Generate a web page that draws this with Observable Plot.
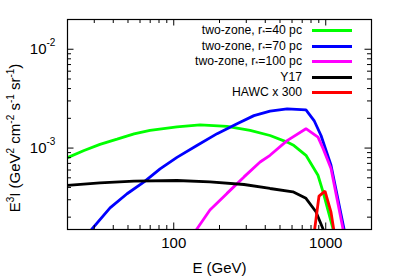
<!DOCTYPE html>
<html><head><meta charset="utf-8">
<script src="https://cdn.jsdelivr.net/npm/d3@7"></script>
<script src="https://cdn.jsdelivr.net/npm/@observablehq/plot@0.6"></script>
<style>
body{margin:0;background:#fff;font-family:"Liberation Sans",Arial,sans-serif;}
#wrap{position:relative;width:399px;height:279px;overflow:hidden;}
#legend{position:absolute;left:0;top:0;}
.row{position:absolute;height:14px;line-height:14px;font-size:12.2px;color:#000;white-space:nowrap;}
.row .t{position:absolute;right:0;top:0;}
.row .sw{position:absolute;top:6px;height:3px;width:40px;}
.row sub{font-size:7.5px;vertical-align:0;position:relative;top:1px;line-height:0;}
#ylabel{position:absolute;left:15px;top:138px;transform:translate(-50%,-50%) rotate(-90deg);font-size:15px;white-space:nowrap;line-height:16px;}
#ylabel sup{font-size:10px;line-height:0;vertical-align:0;position:relative;top:-6px;}
</style></head><body><div id="wrap"></div>
<script>
// Series (energy in GeV, E^3 I in GeV^2 cm^-2 s^-1 sr^-1)
const energy40 = [20, 25.7, 32.7, 42.4, 54.8, 69.8, 105, 149, 224, 318, 430, 557, 618, 741, 889, 960, 1117, 1169];
const flux40 = [8.0e-4, 9.45e-4, 1.09e-3, 1.23e-3, 1.39e-3, 1.51e-3, 1.64e-3, 1.72e-3, 1.66e-3, 1.51e-3, 1.34e-3, 1.15e-3, 1.06e-3, 8.45e-4, 5.31e-4, 3.61e-4, 1.52e-4, 1.18e-4];
const energy70 = [26.5, 29.0, 38.1, 49.3, 63.8, 81.3, 105, 142, 193, 261, 337, 430, 557, 741, 838, 931, 1083, 1319, 1360];
const flux70 = [1.25e-4, 1.52e-4, 2.48e-4, 3.45e-4, 4.55e-4, 6.15e-4, 8.06e-4, 1.06e-3, 1.40e-3, 1.76e-3, 2.13e-3, 2.36e-3, 2.49e-3, 2.43e-3, 1.90e-3, 1.34e-3, 6.70e-4, 1.52e-4, 1.2e-4];
const energy100 = [130, 142, 173, 224, 290, 370, 430, 557, 741, 889, 960, 1083, 1299, 1340];
const flux100 = [1.24e-4, 1.52e-4, 2.36e-4, 3.48e-4, 5.11e-4, 7.23e-4, 8.45e-4, 1.19e-3, 1.57e-3, 1.29e-3, 9.93e-4, 6.21e-4, 1.52e-4, 1.2e-4];
const energyY17 = [20, 32.7, 54.8, 105, 173, 290, 430, 608, 741, 862, 960, 989];
const fluxY17 = [4.19e-4, 4.45e-4, 4.62e-4, 4.70e-4, 4.55e-4, 4.28e-4, 3.90e-4, 3.61e-4, 3.10e-4, 2.27e-4, 1.52e-4, 1.23e-4];
const energyHAWC = [828, 903, 989, 1083, 1151];
const fluxHAWC = [1.18e-4, 3.27e-4, 3.67e-4, 2.25e-4, 1.24e-4];

const seriesNames = ["two-zone, r*=40 pc", "two-zone, r*=70 pc", "two-zone, r*=100 pc", "Y17", "HAWC x 300"];
const seriesColors = ["#00ff00", "#0000ff", "#ff00ff", "#000000", "#ff0000"];
const seriesEnergy = [energy40, energy70, energy100, energyY17, energyHAWC];
const seriesFlux = [flux40, flux70, flux100, fluxY17, fluxHAWC];

// Ticks
const xMajor = [100, 1000];
const xMinor = [30, 40, 50, 60, 70, 80, 90, 200, 300, 400, 500, 600, 700, 800, 900];
const yMajor = [1e-3, 1e-2];
const yMinor = [2e-4, 3e-4, 4e-4, 5e-4, 6e-4, 7e-4, 8e-4, 9e-4, 2e-3, 3e-3, 4e-3, 5e-3, 6e-3, 7e-3, 8e-3, 9e-3];
const xTickLabels = ["100", "1000"];
const yTickExp = ["-3", "-2"];

const W = 399, H = 279, mL = 67, mR = 28, mT = 19, mB = 50;
const FW = W - mL - mR, FH = H - mT - mB;
const MAJ = 6.5, MIN = 4;

const lineMarks = seriesNames.map((name, i) => {
  const rows = seriesEnergy[i].map((e, j) => ({e, v: seriesFlux[i][j]}));
  return Plot.line(rows, {x: "e", y: "v", stroke: seriesColors[i], strokeWidth: 2.8, clip: true, strokeLinejoin: "miter", strokeLinecap: "butt"});
});

const chart = Plot.plot({
  width: W, height: H,
  marginLeft: mL, marginRight: mR, marginTop: mT, marginBottom: mB,
  style: {fontFamily: "'Liberation Sans', Arial, sans-serif", fontSize: "15px", background: "#fff", color: "#000"},
  x: {type: "log", domain: [20, 2000], axis: null},
  y: {type: "log", domain: [1.5e-4, 2e-2], axis: null},
  marks: [
    ...lineMarks,
    Plot.tickX(xMajor, {x: d => d, insetTop: FH - MAJ, stroke: "#000"}),
    Plot.tickX(xMajor, {x: d => d, insetBottom: FH - MAJ, stroke: "#000"}),
    Plot.tickX(xMinor, {x: d => d, insetTop: FH - MIN, stroke: "#000"}),
    Plot.tickX(xMinor, {x: d => d, insetBottom: FH - MIN, stroke: "#000"}),
    Plot.tickY(yMajor, {y: d => d, insetRight: FW - MAJ, stroke: "#000"}),
    Plot.tickY(yMajor, {y: d => d, insetLeft: FW - MAJ, stroke: "#000"}),
    Plot.tickY(yMinor, {y: d => d, insetRight: FW - MIN, stroke: "#000"}),
    Plot.tickY(yMinor, {y: d => d, insetLeft: FW - MIN, stroke: "#000"}),
    Plot.frame({stroke: "#000", strokeWidth: 1.2}),
    Plot.text(xMajor, {x: d => d, text: (d, i) => xTickLabels[i], frameAnchor: "bottom", dy: 14, lineAnchor: "middle", fontSize: 15, fill: "#000"}),
    Plot.text(yMajor, {y: d => d, text: () => "10", frameAnchor: "left", dx: -21, textAnchor: "end", lineAnchor: "middle", fontSize: 15, fill: "#000"}),
    Plot.text(yMajor, {y: d => d, text: (d, i) => yTickExp[i], frameAnchor: "left", dx: -21, dy: -6, textAnchor: "start", lineAnchor: "middle", fontSize: 10, fill: "#000"}),
    Plot.text(["E (GeV)"], {frameAnchor: "bottom", dy: 39, lineAnchor: "middle", fontSize: 15, fill: "#000"})
  ]
});

const wrap = document.getElementById("wrap");
wrap.appendChild(chart);

// Legend (inside the plot, top right)
const legend = document.createElement("div");
legend.id = "legend";
const rowTop = 23, rowStep = 15.5, textRight = 302, swLeft = 312;
seriesNames.map((name, i) => {
  const row = document.createElement("div");
  row.className = "row";
  row.style.left = "0px";
  row.style.width = textRight + "px";
  row.style.top = (rowTop + i * rowStep) + "px";
  const t = document.createElement("span");
  t.className = "t";
  t.innerHTML = name.replace("r*", "r<sub>*</sub>");
  row.appendChild(t);
  const sw = document.createElement("span");
  sw.className = "sw";
  sw.style.left = (swLeft) + "px";
  sw.style.background = seriesColors[i];
  row.appendChild(sw);
  legend.appendChild(row);
});
wrap.appendChild(legend);

const yl = document.createElement("div");
yl.id = "ylabel";
yl.innerHTML = "E<sup>3</sup>I (GeV<sup>2</sup> cm<sup>-2</sup> s<sup>-1</sup> sr<sup>-1</sup>)";
wrap.appendChild(yl);
</script>
</body></html>
